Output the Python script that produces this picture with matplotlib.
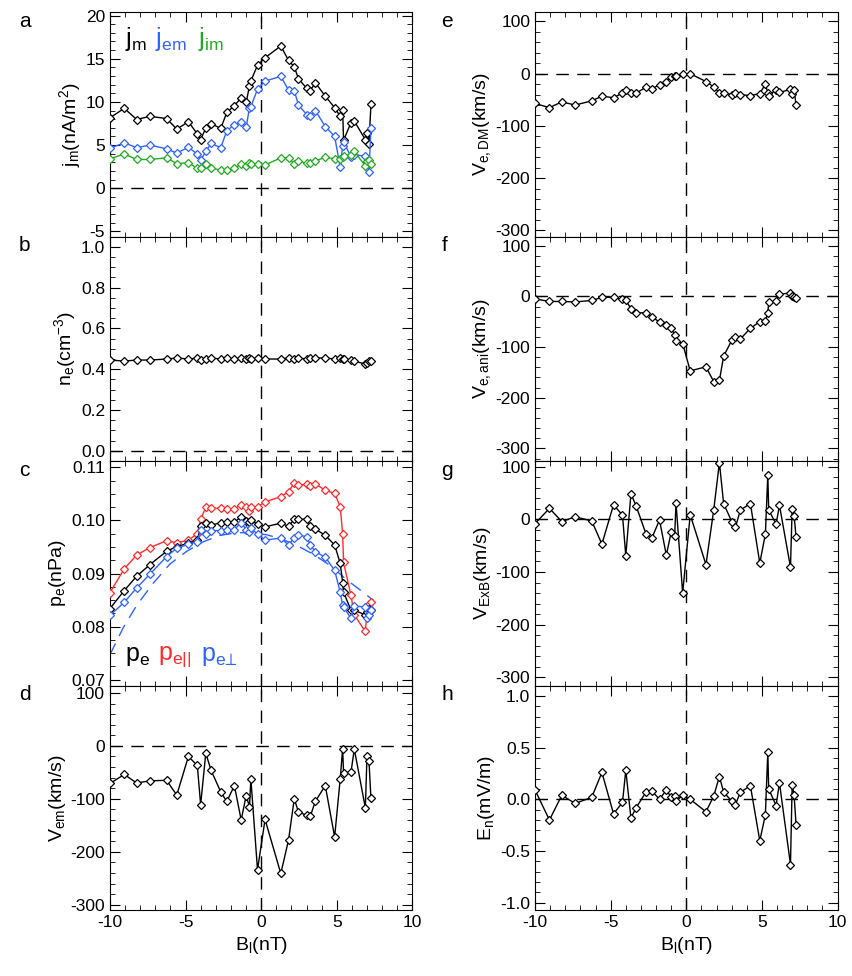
import matplotlib
matplotlib.use("Agg")
import matplotlib.pyplot as plt
from matplotlib.ticker import MultipleLocator

plt.rcParams['font.family'] = ['Liberation Sans', 'DejaVu Sans']
plt.rcParams['mathtext.fontset'] = 'custom'
plt.rcParams['mathtext.rm'] = 'Liberation Sans'
plt.rcParams['mathtext.it'] = 'Liberation Sans'
plt.rcParams['mathtext.default'] = 'rm'
plt.rcParams['axes.unicode_minus'] = False

BLUE = '#2f62ff'
RED = '#ff2a2a'
GREEN = '#22aa22'

# B_l (nT) shared by all panels
bl = [-10.0, -9.05, -8.23, -7.35, -6.25, -5.58, -4.81, -4.22, -4.0, -3.66, -3.31, -2.67, -2.27,
      -1.77, -1.32, -0.99, -0.77, -0.68, -0.24, 0.26, 1.3, 1.81, 2.19, 2.47, 3.02, 3.25, 3.58,
      4.24, 4.86, 5.23, 5.39, 5.45, 5.94, 6.16, 6.89, 7.0, 7.13, 7.26]

# panel a: currents (nA/m^2)
j_m = [8.15, 9.26, 7.96, 8.33, 8.07, 6.85, 7.7, 6.3, 5.63, 6.96, 7.48, 6.93, 8.78, 9.56, 10.48,
       9.93, 11.85, 12.41, 14.26, 15.11, 16.48, 14.81, 14.07, 12.67, 11.56, 11.3, 12.22, 10.67,
       9.33, 8.33, 9.07, 5.56, 7.59, 7.78, 5.63, 6.37, 5.11, 9.7]
j_em = [4.63, 5.26, 4.7, 5.0, 4.56, 4.07, 4.74, 3.96, 3.22, 4.26, 5.19, 4.7, 6.67, 7.33, 7.67,
        7.04, 9.33, 9.44, 11.48, 12.41, 12.96, 11.37, 11.3, 9.63, 8.52, 8.33, 9.0, 7.15, 6.0,
        2.41, 4.89, 5.37, 3.63, 3.89, 3.7, 3.04, 1.85, 6.96]
j_im = [3.41, 3.96, 3.33, 3.33, 3.52, 2.85, 2.96, 2.3, 2.33, 2.78, 2.33, 2.11, 2.11, 2.33, 2.78,
        2.52, 2.96, 2.78, 2.78, 2.7, 3.52, 3.52, 2.85, 3.15, 2.89, 2.96, 3.15, 3.59, 3.41, 3.33,
        3.59, 3.7, 3.89, 4.26, 2.59, 3.15, 3.22, 2.78]

# panel b: density (cm^-3)
n_e = [0.445, 0.44, 0.445, 0.445, 0.45, 0.455, 0.45, 0.455, 0.445, 0.45, 0.455, 0.45, 0.455,
       0.45, 0.455, 0.45, 0.455, 0.45, 0.455, 0.45, 0.45, 0.455, 0.45, 0.455, 0.45, 0.455, 0.455,
       0.455, 0.45, 0.455, 0.45, 0.45, 0.445, 0.44, 0.425, 0.43, 0.44, 0.44]

# panel c: pressures (nPa)
p_e = [0.0834, 0.0868, 0.0895, 0.0917, 0.0942, 0.0951, 0.0957, 0.0963, 0.0990, 0.0996, 0.0991,
       0.0996, 0.0997, 0.0997, 0.1007, 0.0999, 0.0997, 0.1001, 0.0993, 0.0988, 0.0995, 0.0989,
       0.1002, 0.1003, 0.1002, 0.0990, 0.0984, 0.0972, 0.0954, 0.0919, 0.0883, 0.0865, 0.0831,
       0.0831, 0.0822, 0.0828, 0.0834, 0.0831]
p_par = [0.0864, 0.0909, 0.0935, 0.0949, 0.0962, 0.0958, 0.0963, 0.0975, 0.1002, 0.1025, 0.1023,
         0.1023, 0.1022, 0.1022, 0.1030, 0.1026, 0.1017, 0.1026, 0.1026, 0.1035, 0.1045, 0.1054,
         0.1071, 0.1066, 0.1069, 0.1065, 0.1069, 0.1057, 0.1051, 0.1026, 0.0975, 0.0921, 0.0859,
         0.0822, 0.0791, 0.0827, 0.0843, 0.0847]
p_perp = [0.0821, 0.0846, 0.0873, 0.0899, 0.0932, 0.0948, 0.0955, 0.0960, 0.0983, 0.0974, 0.0981,
          0.0981, 0.0983, 0.0983, 0.0996, 0.0983, 0.0978, 0.0985, 0.0975, 0.0963, 0.0967, 0.0954,
          0.0967, 0.0973, 0.0969, 0.0954, 0.0941, 0.0931, 0.0906, 0.0865, 0.0840, 0.0837, 0.0816,
          0.0839, 0.0837, 0.0816, 0.0821, 0.0831]
bl_fit = [-10.0, -9.12, -8.23, -7.13, -6.03, -4.92, -3.82, -2.72, -1.61, -0.51, 0.38, 1.26, 2.36,
          3.47, 4.57, 5.67, 6.78, 7.44]
p_fit = [0.0747, 0.0798, 0.0840, 0.0882, 0.0918, 0.0942, 0.0960, 0.0972, 0.0977, 0.0977, 0.0973,
         0.0966, 0.0953, 0.0936, 0.0915, 0.0888, 0.0864, 0.0849]

# panel d: V_em (km/s)
v_em = [-71, -54, -70, -66, -65, -93, -20, -37, -111, -14, -46, -87, -105, -75, -140, -94, -115,
        -62, -234, -139, -241, -178, -100, -125, -131, -133, -105, -75, -172, -62, -5, -51, -50,
        -6, -117, -19, -28, -99]

# panel e-g: velocities (km/s), h: E_n (mV/m)
v_dm = [-57, -65, -54, -60, -52, -43, -46, -37, -31, -37, -37, -26, -29, -21, -15, -7, -5, -4,
        -1, 0, -15, -25, -37, -37, -40, -37, -40, -42, -38, -20, -37, -42, -31, -36, -30, -39,
        -31, -60]
v_ani = [-5, -10, -10, -11, -8, -2, -2, -6, -8, -24, -33, -32, -40, -51, -56, -63, -76, -88,
         -93, -147, -139, -168, -166, -118, -86, -81, -84, -63, -50, -48, -33, -12, -9, 4, 7, 1,
         -2, -4]
v_exb = [-8, 21, -4, 5, -3, -47, 28, 8, -69, 49, 25, -27, -35, -1, -68, -23, -32, 31, -140, 9,
         -86, 17, 108, 30, -5, -15, 18, 30, -83, -28, 85, 18, -9, 27, -91, 20, 7, -34]
e_n = [0.09, -0.2, 0.04, -0.04, 0.02, 0.26, -0.14, -0.03, 0.28, -0.18, -0.08, 0.07, 0.08, 0.0,
       0.09, 0.02, 0.03, -0.02, 0.04, 0.0, -0.12, 0.03, 0.22, 0.07, -0.02, -0.05, 0.07, 0.13,
       -0.4, -0.15, 0.46, 0.1, -0.06, 0.16, -0.63, 0.14, 0.04, -0.25]

DASH = (0, (9, 6))


def style_axis(ax, ylim, ystep, yminor, ylabel, letter, xlabels, letter_x=-0.30):
    ax.set_xlim(-10, 10)
    ax.set_ylim(*ylim)
    ax.xaxis.set_major_locator(MultipleLocator(5))
    ax.xaxis.set_minor_locator(MultipleLocator(1))
    ax.yaxis.set_major_locator(MultipleLocator(ystep))
    ax.yaxis.set_minor_locator(MultipleLocator(yminor))
    ax.tick_params(which='both', direction='in', top=True, right=True, labelsize=12.5)
    ax.tick_params(which='major', length=7)
    ax.tick_params(which='minor', length=3.5)
    ax.axhline(0, color='k', ls=DASH, lw=1, zorder=1)
    ax.axvline(0, color='k', ls=DASH, lw=1, zorder=1)
    ax.set_ylabel(ylabel, fontsize=14, labelpad=2)
    ax.text(letter_x, 0.96, letter, transform=ax.transAxes, fontsize=15, va='center')
    if xlabels:
        ax.set_xlabel('B$_l$(nT)', fontsize=14)
    else:
        ax.tick_params(labelbottom=False)


def plot_series(ax, y, color='k', x=bl):
    ax.plot(x, y, color=color, lw=1, marker='D', ms=4.3, mfc='white', mec=color, mew=0.9,
            zorder=3)


fig = plt.figure(figsize=(8.52, 9.76), dpi=100)
row_h = 0.23
bottom0 = 0.0676
lefts = [0.129, 0.628]
width = 0.355
axes = {}
for col, names in enumerate([['a', 'b', 'c', 'd'], ['e', 'f', 'g', 'h']]):
    for row, name in enumerate(names):
        axes[name] = fig.add_axes([lefts[col], bottom0 + (3 - row) * row_h, width, row_h])

ax = axes['a']
plot_series(ax, j_m, 'k')
plot_series(ax, j_em, BLUE)
plot_series(ax, j_im, GREEN)
style_axis(ax, (-5.6, 20.4), 5, 1, 'j$_m$(nA/m$^2$)', 'a', False)
ax.text(0.05, 0.88, 'j$_m$', color='k', transform=ax.transAxes, fontsize=18, va='center')
ax.text(0.15, 0.88, 'j$_{em}$', color=BLUE, transform=ax.transAxes, fontsize=18, va='center')
ax.text(0.29, 0.88, 'j$_{im}$', color=GREEN, transform=ax.transAxes, fontsize=18, va='center')

ax = axes['b']
plot_series(ax, n_e)
style_axis(ax, (-0.05, 1.05), 0.2, 0.05, 'n$_e$(cm$^{-3}$)', 'b', False)

ax = axes['c']
ax.plot(bl_fit, p_fit, color=BLUE, lw=1, ls=DASH, zorder=2)
plot_series(ax, p_par, RED)
plot_series(ax, p_e, 'k')
plot_series(ax, p_perp, BLUE)
style_axis(ax, (0.0689, 0.1112), 0.01, 0.0025, 'p$_e$(nPa)', 'c', False)
ax.text(0.05, 0.13, 'p$_e$', color='k', transform=ax.transAxes, fontsize=18, va='center')
ax.text(0.16, 0.13, 'p$_{e||}$', color=RED, transform=ax.transAxes, fontsize=18, va='center')
ax.text(0.30, 0.13, 'p$_{e\u22a5}$', color=BLUE, transform=ax.transAxes, fontsize=18, va='center')

ax = axes['d']
plot_series(ax, v_em)
style_axis(ax, (-310, 114), 100, 20, 'V$_{em}$(km/s)', 'd', True)

lx = -0.31
ax = axes['e']
plot_series(ax, v_dm)
style_axis(ax, (-312, 118), 100, 20, 'V$_{e,DM}$(km/s)', 'e', False, lx)

ax = axes['f']
plot_series(ax, v_ani)
style_axis(ax, (-325, 118), 100, 20, 'V$_{e,ani}$(km/s)', 'f', False, lx)

ax = axes['g']
plot_series(ax, v_exb)
style_axis(ax, (-316, 111), 100, 20, 'V$_{ExB}$(km/s)', 'g', False, lx)

ax = axes['h']
plot_series(ax, e_n)
style_axis(ax, (-1.07, 1.10), 0.5, 0.1, 'E$_n$(mV/m)', 'h', True, lx)

fig.savefig('out.png', dpi=100)
